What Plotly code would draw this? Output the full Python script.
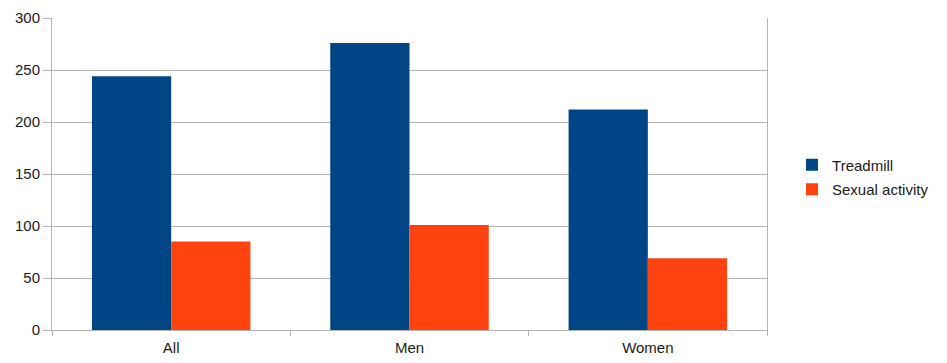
import plotly.graph_objects as go

categories = ["All", "Men", "Women"]
treadmill = [244, 276, 212]
sexual_activity = [85, 101, 69]
y_ticks = [0, 50, 100, 150, 200, 250, 300]

fig = go.Figure()
fig.add_trace(go.Bar(name="Treadmill", x=categories, y=treadmill, marker_color="#004586",
                     marker_line_width=0, legendgroup="a"))
fig.add_trace(go.Bar(name="Sexual activity", x=categories, y=sexual_activity, marker_color="#ff420e",
                     marker_line_width=0, legendgroup="b"))

fig.update_layout(
    width=947, height=363,
    margin=dict(l=52, r=180, t=18, b=33),
    paper_bgcolor="white", plot_bgcolor="white",
    barmode="group", bargap=0.335, bargroupgap=0,
    font=dict(family="Liberation Sans, Arial, sans-serif", size=15, color="#1a1a1a"),
    legend=dict(x=1.035, y=0.49, xanchor="left", yanchor="middle", traceorder="grouped",
                font=dict(size=15), tracegroupgap=2, itemwidth=30),
    showlegend=True,
)
fig.update_xaxes(showline=True, linecolor="#b3b3b3", linewidth=1, mirror=False,
                 ticks="outside", tickson="boundaries", ticklen=5, tickcolor="#b3b3b3",
                 showgrid=False, ticklabelstandoff=4, automargin=False)
fig.update_yaxes(range=[0, 300], tickvals=y_ticks, showline=True, linecolor="#b3b3b3",
                 linewidth=1, mirror=True, ticks="outside", ticklen=8, tickcolor="#b3b3b3",
                 showgrid=True, gridcolor="#b3b3b3", gridwidth=1, zeroline=False, automargin=False)

fig.write_html("out.html")
